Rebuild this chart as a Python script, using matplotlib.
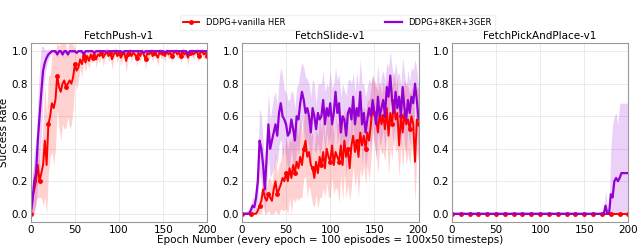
import numpy as np
import matplotlib
matplotlib.use("Agg")
import matplotlib.pyplot as plt

RED = "#ff0000"
PURPLE = "#9400d3"

epochs = np.arange(0, 201, 2)

# FetchPush-v1
push_her = [0.00, 0.10, 0.15, 0.20, 0.30, 0.20, 0.25, 0.30, 0.45, 0.30,
            0.55, 0.60, 0.68, 0.65, 0.70, 0.85, 0.78, 0.75, 0.80, 0.82,
            0.78, 0.80, 0.82, 0.80, 0.84, 0.92, 0.88, 0.90, 0.95, 0.92,
            0.97, 0.93, 0.97, 0.94, 0.98, 0.96, 0.99, 0.95, 0.98, 0.97,
            0.99, 0.96, 0.98, 1.00, 0.97, 0.99, 0.95, 0.98, 1.00, 0.97,
            0.99, 0.96, 0.98, 0.99, 0.94, 0.98, 1.00, 0.97, 0.99, 0.98,
            0.96, 0.99, 0.97, 1.00, 0.98, 0.95, 0.99, 0.98, 1.00, 0.97,
            0.99, 0.98, 0.96, 1.00, 0.98, 0.99, 0.97, 1.00, 0.98, 0.99,
            0.97, 0.99, 1.00, 0.98, 0.99, 0.97, 1.00, 0.98, 0.99, 0.96,
            0.99, 1.00, 0.98, 0.99, 1.00, 0.97, 0.99, 1.00, 0.98, 0.99,
            0.97]
push_her_sd = [0.05, 0.15, 0.15, 0.12, 0.20, 0.10, 0.15, 0.25, 0.35, 0.30,
               0.30, 0.25, 0.30, 0.35, 0.30, 0.20, 0.25, 0.30, 0.25, 0.30,
               0.25, 0.20, 0.30, 0.25, 0.20, 0.10, 0.12, 0.08, 0.05, 0.08,
               0.03, 0.06, 0.04, 0.05, 0.02, 0.04, 0.02, 0.05, 0.03, 0.04,
               0.02, 0.05, 0.03, 0.02, 0.04, 0.02, 0.06, 0.03, 0.02, 0.04,
               0.02, 0.05, 0.03, 0.02, 0.07, 0.03, 0.02, 0.04, 0.02, 0.03,
               0.05, 0.02, 0.04, 0.02, 0.03, 0.06, 0.02, 0.03, 0.02, 0.04,
               0.02, 0.03, 0.05, 0.02, 0.03, 0.02, 0.04, 0.02, 0.03, 0.02,
               0.04, 0.02, 0.02, 0.03, 0.02, 0.04, 0.02, 0.03, 0.02, 0.05,
               0.02, 0.02, 0.03, 0.02, 0.02, 0.04, 0.02, 0.02, 0.03, 0.02,
               0.04]
push_ker = [0.00, 0.08, 0.20, 0.25, 0.45, 0.60, 0.75, 0.88, 0.93, 0.96,
            0.98, 0.99, 1.00, 1.00, 1.00, 0.98, 1.00, 1.00, 0.98, 1.00,
            1.00, 0.98, 1.00, 1.00, 1.00, 1.00, 0.99, 1.00, 1.00, 1.00,
            0.98, 1.00, 1.00, 1.00, 1.00, 1.00, 0.99, 1.00, 1.00, 1.00,
            1.00, 1.00, 1.00, 0.99, 1.00, 1.00, 1.00, 1.00, 1.00, 1.00,
            1.00, 1.00, 0.99, 1.00, 1.00, 1.00, 1.00, 1.00, 1.00, 1.00,
            1.00, 1.00, 1.00, 1.00, 0.99, 1.00, 1.00, 1.00, 1.00, 1.00,
            1.00, 1.00, 1.00, 1.00, 1.00, 1.00, 0.99, 1.00, 1.00, 1.00,
            1.00, 1.00, 1.00, 1.00, 1.00, 1.00, 1.00, 1.00, 1.00, 0.98,
            1.00, 1.00, 1.00, 1.00, 1.00, 1.00, 1.00, 1.00, 1.00, 1.00,
            1.00]
push_ker_sd = [0.03, 0.12, 0.18, 0.20, 0.25, 0.30, 0.28, 0.15, 0.08, 0.05,
               0.03, 0.02, 0.01, 0.01, 0.01, 0.02, 0.01, 0.01, 0.02, 0.01,
               0.01, 0.02, 0.01, 0.01, 0.01, 0.01, 0.01, 0.01, 0.01, 0.01,
               0.02, 0.01, 0.01, 0.01, 0.01, 0.01, 0.01, 0.01, 0.01, 0.01,
               0.01, 0.01, 0.01, 0.01, 0.01, 0.01, 0.01, 0.01, 0.01, 0.01,
               0.01, 0.01, 0.01, 0.01, 0.01, 0.01, 0.01, 0.01, 0.01, 0.01,
               0.01, 0.01, 0.01, 0.01, 0.01, 0.01, 0.01, 0.01, 0.01, 0.01,
               0.01, 0.01, 0.01, 0.01, 0.01, 0.01, 0.01, 0.01, 0.01, 0.01,
               0.01, 0.01, 0.01, 0.01, 0.01, 0.01, 0.01, 0.01, 0.01, 0.02,
               0.01, 0.01, 0.01, 0.01, 0.01, 0.01, 0.01, 0.01, 0.01, 0.01,
               0.01]

# FetchSlide-v1
slide_her = [0.00, 0.00, 0.00, 0.00, 0.00, 0.00, 0.00, 0.00, 0.00, 0.02,
             0.05, 0.08, 0.15, 0.10, 0.08, 0.12, 0.10, 0.08, 0.15, 0.20,
             0.12, 0.15, 0.18, 0.22, 0.20, 0.25, 0.20, 0.28, 0.22, 0.30,
             0.25, 0.32, 0.28, 0.35, 0.30, 0.40, 0.45, 0.35, 0.38, 0.30,
             0.28, 0.22, 0.32, 0.25, 0.35, 0.30, 0.38, 0.28, 0.40, 0.35,
             0.32, 0.42, 0.30, 0.38, 0.35, 0.32, 0.42, 0.30, 0.45, 0.35,
             0.40, 0.28, 0.42, 0.48, 0.38, 0.45, 0.35, 0.50, 0.42, 0.48,
             0.40, 0.50, 0.45, 0.55, 0.68, 0.62, 0.58, 0.50, 0.62, 0.55,
             0.60, 0.52, 0.65, 0.48, 0.62, 0.55, 0.70, 0.58, 0.62, 0.42,
             0.60, 0.50, 0.62, 0.55, 0.58, 0.52, 0.60, 0.55, 0.32, 0.58,
             0.55]
slide_her_sd = [0.00, 0.00, 0.00, 0.00, 0.00, 0.00, 0.00, 0.00, 0.01, 0.03,
                0.05, 0.08, 0.10, 0.10, 0.08, 0.10, 0.12, 0.10, 0.15, 0.18,
                0.12, 0.15, 0.15, 0.20, 0.18, 0.22, 0.20, 0.18, 0.22, 0.20,
                0.18, 0.22, 0.20, 0.25, 0.20, 0.18, 0.22, 0.25, 0.20, 0.18,
                0.22, 0.18, 0.20, 0.22, 0.25, 0.20, 0.22, 0.18, 0.20, 0.25,
                0.22, 0.20, 0.18, 0.22, 0.20, 0.25, 0.18, 0.22, 0.20, 0.25,
                0.22, 0.20, 0.25, 0.18, 0.22, 0.20, 0.25, 0.22, 0.20, 0.18,
                0.22, 0.20, 0.25, 0.22, 0.18, 0.20, 0.22, 0.25, 0.20, 0.18,
                0.22, 0.20, 0.18, 0.25, 0.20, 0.22, 0.18, 0.20, 0.22, 0.20,
                0.18, 0.22, 0.20, 0.25, 0.20, 0.22, 0.18, 0.20, 0.25, 0.20,
                0.22]
slide_ker = [0.00, 0.00, 0.00, 0.00, 0.00, 0.02, 0.05, 0.04, 0.10, 0.20,
             0.45, 0.40, 0.30, 0.15, 0.35, 0.55, 0.40, 0.45, 0.50, 0.55,
             0.48, 0.62, 0.68, 0.60, 0.58, 0.55, 0.48, 0.50, 0.58, 0.52,
             0.45, 0.60, 0.58, 0.68, 0.75, 0.70, 0.62, 0.65, 0.60, 0.50,
             0.65, 0.60, 0.52, 0.62, 0.58, 0.60, 0.70, 0.55, 0.65, 0.60,
             0.68, 0.55, 0.62, 0.75, 0.62, 0.68, 0.50, 0.60, 0.58, 0.48,
             0.62, 0.65, 0.58, 0.72, 0.55, 0.65, 0.60, 0.75, 0.55, 0.62,
             0.50, 0.58, 0.65, 0.60, 0.70, 0.62, 0.55, 0.72, 0.60, 0.65,
             0.70, 0.60, 0.78, 0.72, 0.85, 0.70, 0.62, 0.75, 0.65, 0.72,
             0.60, 0.78, 0.65, 0.58, 0.70, 0.62, 0.72, 0.68, 0.80, 0.70,
             0.58]
slide_ker_sd = [0.00, 0.00, 0.01, 0.02, 0.03, 0.03, 0.05, 0.05, 0.08, 0.12,
                0.20, 0.20, 0.15, 0.15, 0.18, 0.20, 0.18, 0.20, 0.22, 0.20,
                0.18, 0.20, 0.22, 0.25, 0.18, 0.20, 0.22, 0.20, 0.18, 0.22,
                0.20, 0.18, 0.22, 0.20, 0.18, 0.20, 0.22, 0.18, 0.20, 0.22,
                0.18, 0.20, 0.15, 0.18, 0.22, 0.20, 0.18, 0.20, 0.15, 0.18,
                0.20, 0.22, 0.18, 0.15, 0.20, 0.18, 0.22, 0.20, 0.18, 0.25,
                0.20, 0.18, 0.22, 0.15, 0.20, 0.22, 0.18, 0.20, 0.25, 0.18,
                0.22, 0.20, 0.18, 0.20, 0.15, 0.18, 0.22, 0.20, 0.18, 0.20,
                0.18, 0.22, 0.15, 0.18, 0.15, 0.20, 0.22, 0.18, 0.20, 0.15,
                0.20, 0.18, 0.22, 0.20, 0.18, 0.20, 0.18, 0.20, 0.15, 0.18,
                0.20]

# FetchPickAndPlace-v1
pick_her = [0.00] * 101
pick_her_sd = [0.00] * 101
pick_ker = [0.00] * 87 + [0.05, 0.00, 0.00, 0.12, 0.10, 0.20, 0.22,
                          0.20, 0.22, 0.25, 0.25, 0.25, 0.25, 0.25]
pick_ker_sd = [0.00] * 87 + [0.10, 0.05, 0.00, 0.28, 0.45, 0.40, 0.40,
                             0.35, 0.46, 0.43, 0.43, 0.43, 0.43, 0.43]

panels = [
    ("FetchPush-v1", push_her, push_her_sd, push_ker, push_ker_sd),
    ("FetchSlide-v1", slide_her, slide_her_sd, slide_ker, slide_ker_sd),
    ("FetchPickAndPlace-v1", pick_her, pick_her_sd, pick_ker, pick_ker_sd),
]

plt.rcParams["font.family"] = ["DejaVu Sans"]
fig = plt.figure(figsize=(6.4, 2.46), dpi=100)
lefts = [0.048, 0.378, 0.706]

for i, (title, her, her_sd, ker, ker_sd) in enumerate(panels):
    ax = fig.add_axes([lefts[i], 0.098, 0.276, 0.727])
    for mean, sd, color, label, marker, lw in [
        (her, her_sd, RED, "DDPG+vanilla HER", "o", 1.4),
        (ker, ker_sd, PURPLE, "DDPG+8KER+3GER", None, 1.6),
    ]:
        mean = np.array(mean)
        sd = np.array(sd)
        ax.fill_between(epochs, np.clip(mean - sd, 0, None), mean + sd,
                        color=color, alpha=0.18, linewidth=0)
        ax.plot(epochs, mean, color=color, linewidth=lw, label=label,
                marker=marker, markersize=2.5, markevery=5)
    ax.set_xlim(0, 200)
    ax.set_ylim(-0.05, 1.05)
    ax.set_xticks([0, 50, 100, 150, 200])
    ax.set_yticks([0.0, 0.2, 0.4, 0.6, 0.8, 1.0])
    ax.tick_params(labelsize=7.5, length=0, pad=2)
    ax.grid(color="#e8e8e8", linewidth=0.6)
    ax.set_axisbelow(True)
    for sp in ax.spines.values():
        sp.set_color("#999999")
    ax.set_title(title, fontsize=7.5, pad=3)
    if i == 0:
        ax.set_ylabel("Success Rate", fontsize=7.5, labelpad=2)
        handles, labels = ax.get_legend_handles_labels()
    if i == 1:
        ax.set_xlabel("Epoch Number (every epoch = 100 episodes = 100x50 timesteps)",
                      fontsize=7.5, labelpad=0)

fig.legend(handles, labels, loc="center", bbox_to_anchor=(0.527, 0.907),
           ncol=2, fontsize=6, columnspacing=12, handlelength=2.0,
           frameon=True, edgecolor="#eeeeee", fancybox=False,
           borderpad=0.35, handletextpad=0.8)

fig.savefig("out.png", dpi=100)
